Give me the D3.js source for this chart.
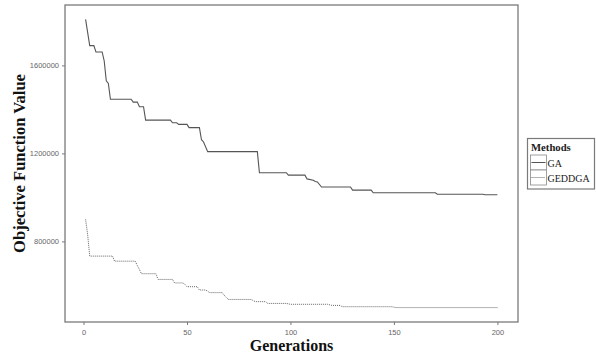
<!DOCTYPE html>
<html><head><meta charset="utf-8">
<script src="https://cdn.jsdelivr.net/npm/d3@7"></script>
<style>body{margin:0;background:#fff}svg{display:block}</style>
</head><body>
<script>
// Bend points of each series (generation, objective value)
const gaGen = [1,3,5,6,9,10,11,12,13,23,24,26,27,29,30,42,43,45,46,50,51,56,57,58,60,84,85,98,99,107,108,111,112,113,115,129,130,139,140,170,171,193,194,200];
const gaVal = [1809000,1690000,1690000,1661000,1661000,1620000,1530000,1518000,1446000,1446000,1433000,1433000,1412000,1412000,1351000,1351000,1339000,1339000,1332000,1332000,1317000,1317000,1262000,1252000,1208000,1208000,1112000,1112000,1101000,1101000,1084000,1078000,1072000,1070000,1047000,1047000,1033000,1033000,1021000,1021000,1014000,1014000,1012000,1012000];
const geGen = [1,2,3,14,15,25,26,27,28,34,35,36,42,43,44,48,49,50,55,56,59,61,67,68,69,70,81,83,88,89,98,100,118,120,124,125,149,151,200];
const geVal = [900000,830000,733000,733000,710000,710000,690000,672000,653000,653000,653000,627000,627000,627000,611000,611000,605000,594000,594000,579000,579000,567000,567000,555000,545000,536000,536000,526000,526000,518000,518000,514000,514000,509000,509000,503000,503000,499000,499000];
const xTicks = [0,50,100,150,200];
const yTicks = [800000,1200000,1600000];
const seriesNames = ["GA","GEDDGA"];

const W=596,H=360;
const P={l:65,r:518,t:5,b:322};
const svg=d3.select("body").append("svg").attr("width",W).attr("height",H);

const xmin=1,xmax=200;
const xe=(xmax-xmin)*0.05;
const allV=gaVal.concat(geVal);
const ymin=d3.min(allV),ymax=d3.max(allV);
const ye=(ymax-ymin)*0.05;
const x=d3.scaleLinear().domain([xmin-xe,xmax+xe]).range([P.l,P.r]);
const y=d3.scaleLinear().domain([ymin-ye,ymax+ye]).range([P.b,P.t]);

const gray="#7a7a7a";
// axes
const xa=svg.append("g").attr("transform",`translate(0,${P.b})`)
  .call(d3.axisBottom(x).tickValues(xTicks).tickSize(3).tickPadding(5).tickFormat(d3.format("d")));
const ya=svg.append("g").attr("transform",`translate(${P.l},0)`)
  .call(d3.axisLeft(y).tickValues(yTicks).tickSize(3).tickPadding(3).tickFormat(d3.format("d")));
[xa,ya].forEach(a=>{
  a.select(".domain").remove();
  a.selectAll("line").attr("stroke",gray).attr("stroke-width",1);
  a.selectAll("text").attr("fill","#666").style("font-family","Liberation Sans, Arial, sans-serif").style("font-size","7.5px");
});

// panel border
svg.append("rect").attr("x",P.l).attr("y",P.t).attr("width",P.r-P.l).attr("height",P.b-P.t)
  .attr("fill","none").attr("stroke",gray).attr("stroke-width",1.3);

const line=d3.line().x(d=>x(d[0])).y(d=>y(d[1]));
const gaData=gaGen.map((g,i)=>[g,gaVal[i]]);
const geData=geGen.map((g,i)=>[g,geVal[i]]);
svg.append("path").attr("d",line(gaData)).attr("fill","none").attr("stroke","#555").attr("stroke-width",1.1);
svg.append("path").attr("d",line(geData)).attr("fill","none").attr("stroke","#666").attr("stroke-width",1).attr("stroke-dasharray","1,1");

// axis titles
svg.append("text").attr("x",(P.l+P.r)/2).attr("y",351).attr("text-anchor","middle")
  .style("font-family","Liberation Serif, Times New Roman, serif").style("font-weight","bold").style("font-size","16px").attr("fill","#111").text("Generations");
svg.append("text").attr("transform",`translate(25,${(P.t+P.b)/2}) rotate(-90)`).attr("text-anchor","middle")
  .style("font-family","Liberation Serif, Times New Roman, serif").style("font-weight","bold").style("font-size","16.5px").attr("fill","#111").text("Objective Function Value");

// legend
const lg=svg.append("g");
lg.append("rect").attr("x",527.5).attr("y",138.5).attr("width",67).attr("height",50.5).attr("fill","#fff").attr("stroke",gray).attr("stroke-width",1.2);
lg.append("text").attr("x",531).attr("y",150.5).style("font-family","Liberation Serif, Times New Roman, serif").style("font-weight","bold").style("font-size","10.7px").attr("fill","#222").text("Methods");
const keyTop=[155,170];
seriesNames.forEach((n,i)=>{
  const ty=keyTop[i];
  lg.append("rect").attr("x",530.5).attr("y",ty).attr("width",16).attr("height",15).attr("fill","#fff").attr("stroke","#888").attr("stroke-width",0.8);
  lg.append("line").attr("x1",531.5).attr("x2",545.5).attr("y1",ty+7.5).attr("y2",ty+7.5)
    .attr("stroke",i===0?"#555":"#666").attr("stroke-width",1).attr("stroke-dasharray",i===0?null:"1,1");
  lg.append("text").attr("x",547.5).attr("y",ty+12).style("font-family","Liberation Serif, Times New Roman, serif").style("font-size","10px").attr("fill","#222").text(n);
});
</script>
</body></html>
